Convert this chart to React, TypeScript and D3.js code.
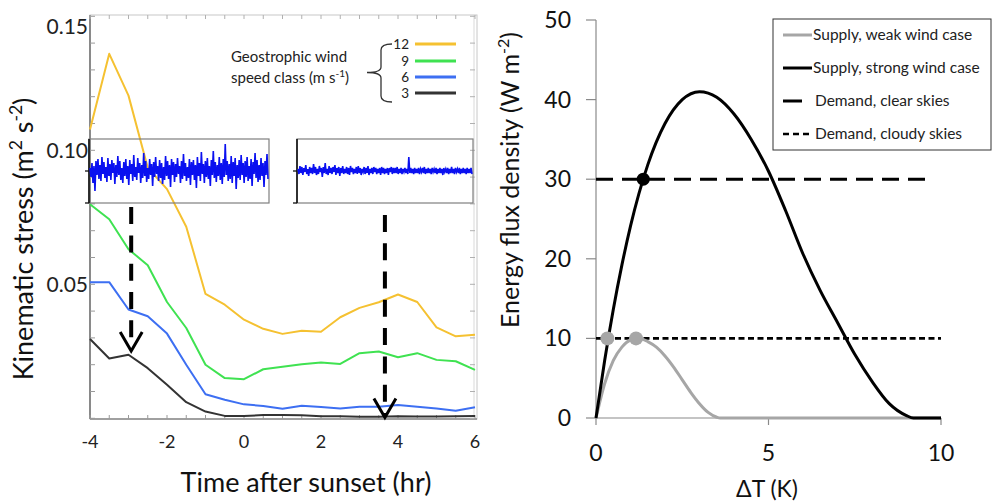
import React from "react";
import * as d3 from "d3";

// ---------- Left panel data ----------
const hours = [-4, -3.5, -3, -2.5, -2, -1.5, -1, -0.5, 0, 0.5, 1, 1.5, 2, 2.5, 3, 3.5, 4, 4.5, 5, 5.5, 6];
const wind12 = [0.1078, 0.136, 0.1204, 0.0935, 0.0855, 0.0715, 0.0464, 0.0424, 0.0368, 0.0334, 0.0315, 0.0327, 0.0323, 0.0377, 0.0412, 0.0433, 0.0462, 0.0434, 0.0339, 0.0306, 0.0312];
const wind9 = [0.0799, 0.0743, 0.0631, 0.0571, 0.0434, 0.0337, 0.02, 0.015, 0.0146, 0.0183, 0.0192, 0.0202, 0.0208, 0.0203, 0.0243, 0.0249, 0.0228, 0.0243, 0.0218, 0.0213, 0.0181];
const wind6 = [0.0508, 0.0508, 0.0406, 0.0381, 0.0316, 0.02, 0.009, 0.0069, 0.0052, 0.0046, 0.0036, 0.0047, 0.0042, 0.0037, 0.0043, 0.0043, 0.005, 0.0043, 0.0037, 0.0028, 0.0041];
const wind3 = [0.0296, 0.0223, 0.0237, 0.0187, 0.0125, 0.006, 0.0025, 0.0009, 0.0009, 0.0012, 0.0012, 0.0011, 0.0008, 0.0008, 0.0006, 0.0006, 0.0008, 0.0007, 0.0007, 0.0008, 0.0009];
const windClasses = ["12", "9", "6", "3"];
const leftYTicks = [0.15, 0.1, 0.05];
const leftYTickLabels = ["0.15", "0.10", "0.05"];
const leftXTicks = [-4, -2, 0, 2, 4, 6];

// turbulence fluctuations shown in the two insets (arbitrary units)
const noiseEarly = [
  3, -6, 8, -12, 5, -20, 10, -4, 12, -8, 6, -10, 14, -3, 9, -7, 4, -11, 13, -5,
  7, -9, 11, -2, 8, -13, 6, -6, 15, -4, 10, -9, 3, -12, 9, -5, 12, -8, 5, -14,
  11, -3, 7, -10, 16, -6, 4, -9, 13, -2, 8, -12, 6, -7, 18, -5, 10, -11, 3, -8,
  12, -4, 7, -15, 9, -6, 14, -3, 5, -10, 11, -7, 8, -13, 4, -9, 15, -5, 10, -8,
  6, -16, 12, -4, 9, -11, 7, -6, 13, -3, 5, -12, 10, -8, 17, -5, 8, -10, 4, -7,
  12, -14, 9, -4, 11, -9, 6, -17, 14, -5, 8, -10, 19, -3, 7, -12, 10, -6, 13, -8,
  5, -15, 11, -4, 20, -7, 9, -11, 6, -5, 14, -9, 8, -13, 12, -6, 27, -4, 10, -10,
  7, -8, 15, -12, 9, -5, 13, -18, 6, -7, 11, -9, 16, -4, 8, -12, 10, -6, 14, -10,
  5, -8, 12, -15, 9, -3, 18, -7, 11, -11, 6, -9, 13, -5, 8, -16, 10, -4, 17, -8,
];
const noiseLate = [
  2, -3, 5, -2, 4, -4, 3, -1, 6, -3, 2, -5, 4, -2, 3, -3, 7, -2, 4, -4,
  2, -3, 5, -1, 3, -6, 4, -2, 8, -3, 2, -4, 5, -2, 3, -3, 4, -1, 6, -4,
  3, -2, 4, -5, 3, -2, 5, -3, 2, -2, 4, -3, 3, -4, 5, -1, 3, -3, 2, -2,
  4, -3, 5, -2, 3, -4, 2, -1, 4, -3, 3, -2, 5, -4, 2, -2, 3, -3, 4, -1,
  3, -3, 2, -2, 3, -4, 4, -2, 3, -3, 2, -2, 3, -4, 3, -1, 4, -3, 3, -2,
  3, -2, 4, -3, 2, -2, 3, -3, 2, -1, 3, -2, 2, -3, 14, -2, 3, -2, 2, -3,
  3, -2, 2, -2, 3, -3, 2, -1, 3, -2, 4, -3, 2, -2, 3, -2, 2, -3, 3, -1,
  2, -2, 3, -3, 2, -2, 3, -2, 2, -4, 3, -1, 2, -2, 3, -3, 2, -2, 4, -2,
  2, -3, 3, -1, 2, -2, 3, -3, 2, -2, 3, -2, 2, -3, 3, -2, 2, -2, 3, -3,
];
// arrows: time (hr) and stress range
const arrowTimes = [-2.93, 3.66];
const arrowTop = [0.0788, 0.0759];
const arrowTip = [0.0251, 0.0003];

// ---------- Right panel data ----------
const strongX = [0, 0.25, 0.5, 0.75, 1, 1.5, 2, 2.5, 3, 3.5, 4, 4.5, 5, 5.5, 6, 6.5, 7, 7.5, 8, 8.5, 9, 9.2, 10];
const strongY = [0, 7.2, 13.6, 19.2, 24.1, 31.8, 37.0, 40.0, 41.0, 40.3, 38.2, 35.0, 31.0, 26.0, 20.6, 16.0, 12.0, 8.0, 4.6, 1.8, 0.3, 0, 0];
const weakX = [0, 0.25, 0.5, 0.75, 1, 1.25, 1.5, 1.75, 2, 2.25, 2.5, 2.75, 3, 3.25, 3.5, 3.6, 10];
const weakY = [0, 4.3, 7.2, 8.9, 9.8, 10.0, 9.6, 8.9, 7.8, 6.4, 4.8, 3.2, 1.8, 0.7, 0.1, 0, 0];
const demandClear = 30;
const demandClearEnd = 9.77;
const demandCloudy = 10;
const demandCloudyEnd = 10;
const strongDot = [1.37, 30];
const weakDots = [[0.33, 10], [1.16, 10]];
const rightYTicks = [0, 10, 20, 30, 40, 50];
const rightXTicks = [0, 5, 10];
const legendLabels = ["Supply, weak wind case", "Supply, strong wind case", "Demand, clear skies", "Demand, cloudy skies"];

const FONT = "Lato, 'Open Sans', sans-serif";
const colors = { "12": "#f5c131", "9": "#3fe251", "6": "#3d6ff2", "3": "#333333" };

export default function App() {
  // Left scales
  const lx = d3.scaleLinear().domain([-4, 6]).range([90, 475]);
  const ly = d3.scaleLinear().domain([0, 0.15]).range([418.3, 16.3]);
  const line = d3.line<number>().x((_, i) => lx(hours[i])).y((d) => ly(d));
  const series = [
    { k: "12", v: wind12 },
    { k: "9", v: wind9 },
    { k: "6", v: wind6 },
    { k: "3", v: wind3 },
  ];
  const minorY = d3.range(0, 0.1501, 0.01);
  const minorX = d3.range(-4, 6.01, 0.5);

  // insets
  const insets = [
    { x0: 89, x1: 269, data: noiseEarly },
    { x0: 297, x1: 473, data: noiseLate },
  ];
  const insetY = d3.scaleLinear().domain([-32, 32]).range([203, 139]);

  // Right scales
  const rx = d3.scaleLinear().domain([0, 10]).range([596, 941]);
  const ry = d3.scaleLinear().domain([0, 50]).range([418, 20]);
  const curve = (xs: number[], ys: number[]) =>
    d3.line<number>().x((_, i) => rx(xs[i])).y((d) => ry(d)).curve(d3.curveMonotoneX)(ys) || "";

  return (
    <svg width={992} height={502} style={{ position: "absolute", left: 0, top: 0, background: "#fff" }} fontFamily={FONT}>
      <rect x={0} y={0} width={992} height={502} fill="#fff" />
      {/* ===== LEFT PANEL ===== */}
      <rect x={90} y={15} width={387} height={404} fill="none" stroke="#c8c8c8" strokeWidth={1} />
      <line x1={474} x2={474} y1={15} y2={419} stroke="#d9d9d9" />
      <line x1={90} x2={90} y1={15} y2={419} stroke="#5a5a5a" strokeWidth={1.3} />
      <line x1={90} x2={477} y1={419} y2={419} stroke="#8a8a8a" strokeWidth={1.3} />
      {minorY.map((v, i) => (
        <g key={"ly" + i}>
          <line x1={90} x2={95} y1={ly(v)} y2={ly(v)} stroke="#9a9a9a" />
          <line x1={470} x2={475} y1={ly(v)} y2={ly(v)} stroke="#b0b0b0" />
        </g>
      ))}
      {minorX.map((v, i) => (
        <g key={"lx" + i}>
          <line x1={lx(v)} x2={lx(v)} y1={419} y2={415} stroke="#9a9a9a" />
          <line x1={lx(v)} x2={lx(v)} y1={15} y2={19} stroke="#b0b0b0" />
        </g>
      ))}
      {leftYTicks.map((v, i) => (
        <text key={"lyt" + i} x={88} y={Math.max(ly(v), 27)} dy="0.35em" textAnchor="end" fontSize={21} fill="#222">
          {leftYTickLabels[i]}
        </text>
      ))}
      {leftXTicks.map((v) => (
        <text key={"lxt" + v} x={lx(v)} y={442} dy="0.35em" textAnchor="middle" fontSize={18} fill="#222">
          {v}
        </text>
      ))}
      {series.map((s) => (
        <path key={s.k} d={line(s.v) || ""} fill="none" stroke={colors[s.k]} strokeWidth={2} strokeLinejoin="round" />
      ))}
      {/* insets */}
      {insets.map((ins, j) => {
        const nx = d3.scaleLinear().domain([0, ins.data.length - 1]).range([ins.x0 + 1, ins.x1 - 1]);
        const p = d3.line<number>().x((_, i) => nx(i)).y((d) => insetY(d))(ins.data) || "";
        return (
          <g key={"in" + j}>
            <rect x={ins.x0} y={139} width={ins.x1 - ins.x0} height={64} fill="none" stroke="#7f7f7f" strokeWidth={1.2} />
            <line x1={ins.x0} x2={ins.x0} y1={139} y2={203} stroke="#111" strokeWidth={1.6} />
            <line x1={ins.x0 - 4} x2={ins.x0} y1={insetY(0)} y2={insetY(0)} stroke="#111" strokeWidth={1.3} />
            <line x1={ins.x0 - 4} x2={ins.x0} y1={203} y2={203} stroke="#111" strokeWidth={1.3} />
            <path d={p} fill="none" stroke="#0a10f0" strokeWidth={1.6} />
          </g>
        );
      })}
      {/* arrows */}
      {arrowTimes.map((t, i) => {
        const x = lx(t);
        const y0 = ly(arrowTop[i]);
        const y1 = ly(arrowTip[i]);
        return (
          <g key={"ar" + i}>
            <line x1={x} x2={x} y1={y0} y2={y1 - 2} stroke="#000" strokeWidth={4} strokeDasharray="17 11.3" />
            <path d={`M${x - 11},${y1 - 19} L${x},${y1} L${x + 11},${y1 - 19}`} fill="none" stroke="#000" strokeWidth={3} />
          </g>
        );
      })}
      {/* left legend */}
      <text x={231} y={62} fontSize={15} fill="#222">Geostrophic wind</text>
      <text x={231} y={83} fontSize={15} fill="#222">
        <tspan>speed class (m s</tspan>
        <tspan dy={-6} fontSize={10}>-1</tspan>
        <tspan dy={6}>)</tspan>
      </text>
      <path d="M392,44 Q381,44 381,50 L381,67 Q381,72.5 367,72.5 Q381,72.5 381,78 L381,96 Q381,102 392,102" fill="none" stroke="#333" strokeWidth={1.3} />
      {windClasses.map((k, i) => {
        const yy = [44, 61, 77, 93][i];
        return (
          <g key={"lg" + k}>
            <text x={409} y={yy} dy="0.35em" textAnchor="end" fontSize={13.5} fill="#222">{k}</text>
            <line x1={415} x2={456} y1={yy} y2={yy} stroke={colors[k]} strokeWidth={3} />
          </g>
        );
      })}
      {/* left titles */}
      <text transform="translate(33,239) rotate(-90)" textAnchor="middle" fontSize={27} fill="#111">
        <tspan>Kinematic stress (m</tspan>
        <tspan dy={-11} fontSize={17.5}>2</tspan>
        <tspan dy={11}> s</tspan>
        <tspan dy={-11} fontSize={17.5}>-2</tspan>
        <tspan dy={11}>)</tspan>
      </text>
      <text x={306} y={492} textAnchor="middle" fontSize={27} fill="#111">Time after sunset (hr)</text>

      {/* ===== RIGHT PANEL ===== */}
      <line x1={596} x2={596} y1={20} y2={418} stroke="#8a8a8a" strokeWidth={1.2} />
      <line x1={596} x2={941} y1={418} y2={418} stroke="#8a8a8a" strokeWidth={1.2} />
      {rightYTicks.map((v) => (
        <g key={"ry" + v}>
          <line x1={586} x2={596} y1={ry(v)} y2={ry(v)} stroke="#8a8a8a" strokeWidth={1.2} />
          <text x={571} y={ry(v)} dy="0.35em" textAnchor="end" fontSize={23} fill="#111">{v}</text>
        </g>
      ))}
      {rightXTicks.map((v) => (
        <g key={"rx" + v}>
          <line x1={rx(v)} x2={rx(v)} y1={418} y2={425} stroke="#8a8a8a" strokeWidth={1.2} />
          <text x={rx(v)} y={453} dy="0.35em" textAnchor="middle" fontSize={23} fill="#111">{v}</text>
        </g>
      ))}
      <line x1={rx(0)} x2={rx(demandClearEnd)} y1={ry(demandClear)} y2={ry(demandClear)} stroke="#000" strokeWidth={3} strokeDasharray="17 9" />
      <line x1={rx(0)} x2={rx(demandCloudyEnd)} y1={ry(demandCloudy)} y2={ry(demandCloudy)} stroke="#000" strokeWidth={2.6} strokeDasharray="6 3.5" />
      <path d={curve(weakX, weakY)} fill="none" stroke="#a6a6a6" strokeWidth={3} />
      <path d={curve(strongX, strongY)} fill="none" stroke="#000" strokeWidth={3} />
      <circle cx={rx(strongDot[0])} cy={ry(strongDot[1])} r={6.5} fill="#000" />
      {weakDots.map((d, i) => (
        <circle key={"wd" + i} cx={rx(d[0])} cy={ry(d[1])} r={7} fill="#a6a6a6" />
      ))}
      {/* legend */}
      <rect x={773} y={19} width={218} height={131} fill="#fff" stroke="#333" strokeWidth={1} />
      {legendLabels.map((t, i) => {
        const yy = [35, 68, 101, 134][i];
        return (
          <g key={"rl" + i}>
            {i === 0 && <line x1={783} x2={812} y1={yy} y2={yy} stroke="#a6a6a6" strokeWidth={3} />}
            {i === 1 && <line x1={783} x2={812} y1={yy} y2={yy} stroke="#000" strokeWidth={3} />}
            {i === 2 && <line x1={783} x2={802} y1={yy} y2={yy} stroke="#000" strokeWidth={3} />}
            {i === 3 && <line x1={783} x2={811} y1={yy} y2={yy} stroke="#000" strokeWidth={2.6} strokeDasharray="6 4" />}
            <text x={i < 2 ? 813 : 815} y={yy} dy="0.35em" fontSize={15.5} fill="#222">{t}</text>
          </g>
        );
      })}
      <text transform="translate(519,180) rotate(-90)" textAnchor="middle" fontSize={25} fill="#111">
        <tspan>Energy flux density (W m</tspan>
        <tspan dy={-10} fontSize={16}>-2</tspan>
        <tspan dy={10}>)</tspan>
      </text>
      <text x={767} y={497} textAnchor="middle" fontSize={23} fill="#111">ΔT (K)</text>
    </svg>
  );
}
